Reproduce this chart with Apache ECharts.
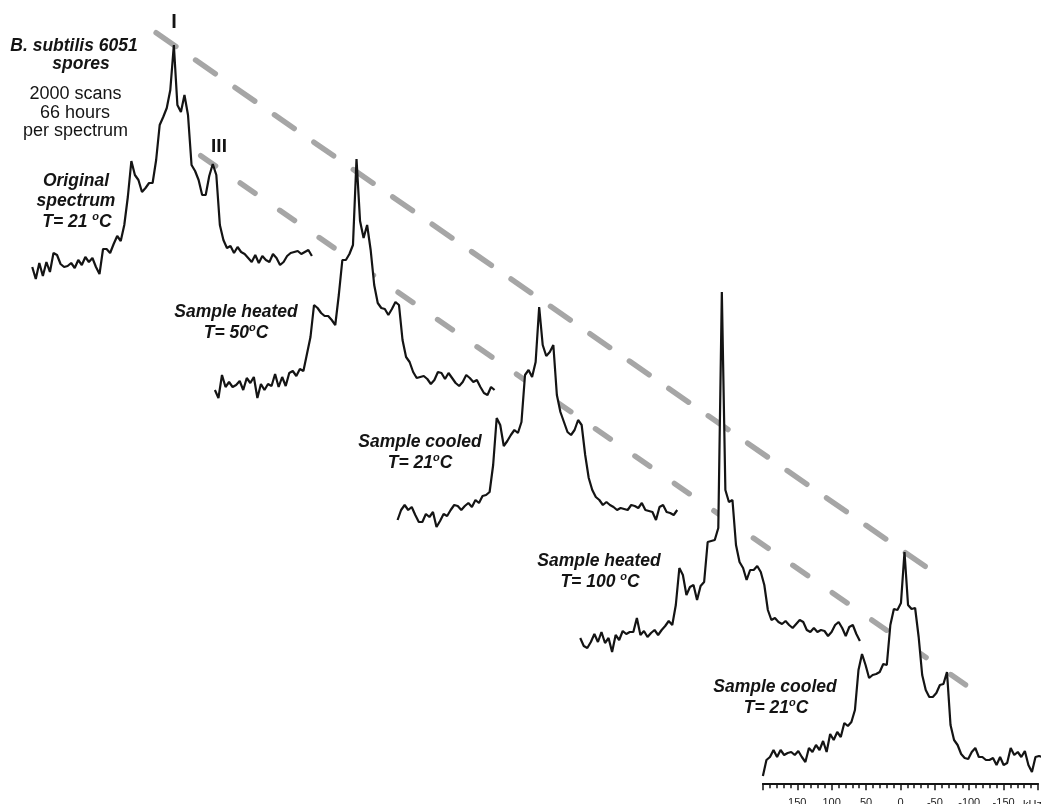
<!DOCTYPE html>
<html>
<head>
<meta charset="utf-8">
<title>B. subtilis 6051 spores – 2H NMR spectra</title>
<script src="https://cdn.jsdelivr.net/npm/echarts@6/dist/echarts.min.js"></script>
<style>
  html, body { margin: 0; padding: 0; background: #ffffff; }
  #chart { width: 1041px; height: 804px; }
</style>
</head>
<body>
<div id="chart"></div>
<script>
// ---------------------------------------------------------------------------
// Data: frequency grid (kHz) and the five spectra, intensity above baseline
// (arbitrary units), one value per frequency point, left (200 kHz) to right.
// ---------------------------------------------------------------------------
const freqKHz = [
  200, 195, 190, 185, 180, 175, 170, 165, 160, 155,
  150, 145, 140, 135, 130, 125, 120, 115, 110, 105,
  100, 95, 90, 85, 80, 75, 70, 65, 60, 55,
  50, 45, 40, 35, 30, 25, 20, 15, 10, 5,
  0, -5, -10, -15, -20, -25, -30, -35, -40, -45,
  -50, -55, -60, -65, -70, -75, -80, -85, -90, -95,
  -100, -105, -110, -115, -120, -125, -130, -135, -140, -145,
  -150, -155, -160, -165, -170, -175, -180, -185, -190, -195
];

// Original spectrum, T = 21 °C
const original21 = [
  -2, -14, 2, -11, 3, -7, 12, 10, 1, -2,
  -1, 2, -3, 5, 0, 8, 3, 7, -2, -9,
  16, 16, 12, 21, 29, 24, 40, 68, 104, 90,
  85, 73, 77, 82, 82, 105, 140, 148, 157, 175,
  220, 160, 153, 170, 150, 100, 94, 85, 70, 70,
  89, 101, 90, 40, 25, 17, 19, 12, 18, 13,
  11, 7, 3, 10, 2, 9, 5, 3, 11, 7,
  0, 3, 9, 12, 13, 14, 11, 13, 15, 9
];

// Sample heated, T = 50 °C
const heated50 = [
  0, -8, 15, 3, 8, 3, 5, 9, 0, 12,
  7, 13, -8, 6, 0, 6, 4, 16, 3, 13,
  4, 17, 19, 14, 21, 19, 36, 53, 85, 82,
  77, 74, 74, 70, 65, 95, 130, 130, 136, 145,
  231, 169, 152, 165, 140, 105, 87, 82, 81, 75,
  81, 88, 85, 50, 33, 28, 18, 12, 13, 14,
  11, 6, 10, 18, 17, 11, 17, 12, 7, 4,
  8, 15, 12, 8, 10, 3, -3, -5, 3, 0
];

// Sample cooled, T = 21 °C
const cooled21 = [
  -5, 5, 10, 5, 8, 0, -7, -7, 1, -2,
  3, -12, -6, 1, -1, 5, 10, 9, 5, 9,
  12, 8, 15, 12, 19, 20, 23, 50, 97, 90,
  69, 74, 80, 85, 82, 93, 140, 145, 138, 153,
  208, 170, 159, 163, 170, 120, 103, 93, 83, 80,
  85, 95, 90, 60, 37, 25, 18, 15, 10, 13,
  10, 8, 5, 7, 6, 5, 10, 9, 7, 12,
  5, 4, 3, -5, 8, 10, 3, 2, 0, 5
];

// Sample heated, T = 100 °C
const heated100 = [
  2, -6, -8, -2, 6, -2, 8, -3, 2, -12,
  5, 0, 9, 6, 8, 8, 22, 5, 9, 3,
  7, 10, 5, 10, 14, 19, 15, 35, 72, 65,
  45, 53, 55, 40, 54, 58, 98, 99, 100, 112,
  348, 150, 138, 140, 95, 78, 72, 60, 70, 70,
  74, 68, 55, 30, 20, 22, 18, 16, 19, 15,
  12, 16, 20, 18, 10, 8, 12, 8, 10, 9,
  4, 8, 15, 18, 12, 4, 13, 15, 6, -1
];

// Sample cooled again, T = 21 °C
const recooled21 = [
  -11, 5, 8, 15, 8, 15, 10, 12, 13, 10,
  14, 8, 3, 17, 13, 20, 15, 24, 13, 31,
  25, 33, 28, 42, 39, 43, 55, 95, 111, 100,
  87, 90, 91, 93, 101, 100, 140, 156, 155, 162,
  213, 160, 156, 157, 128, 90, 75, 68, 68, 72,
  80, 81, 93, 40, 25, 20, 11, 7, 6, 13,
  17, 8, 8, 5, 5, 7, 0, 8, 0, 2,
  17, 10, 13, 8, 14, 0, -7, 8, 9, 8
];

// Frequency labels shown on the bottom scale
const scaleLabelsKHz = ['150', '100', '50', '0', '-50', '-100', '-150'];
const scaleUnit = 'kHz';

// Texts
const titleLines = ['B. subtilis 6051', 'spores'];
const acquisitionLines = ['2000 scans', '66 hours', 'per spectrum'];
const traceLabels = [
  ['Original', 'spectrum', 'T= 21 {o|o}C'],
  ['Sample heated', 'T= 50{o|o}C'],
  ['Sample cooled', 'T= 21{o|o}C'],
  ['Sample heated', 'T= 100 {o|o}C'],
  ['Sample cooled', 'T= 21{o|o}C']
];

// Guide lines through peak I (centre) and peak III (right horn)
const guides = [
  { name: 'I',   freqTop: 0,   freqBottom: 0,   leadKHz: 25, tailKHz: 32, dash: [24, 24] },
  { name: 'III', freqTop: -55, freqBottom: -60, leadKHz: 17, tailKHz: 36, dash: [18, 30] }
];

// ---------------------------------------------------------------------------
// Layout of the stacked plot
// ---------------------------------------------------------------------------
const CHART_W = 1041, CHART_H = 804;
const PX_PER_KHZ = 0.708;       // horizontal scale shared by every trace
const ZERO_KHZ_PX = 904.5;      // x of 0 kHz for the lowest trace / scale
const STACK_SHIFT_KHZ = 258;    // each trace sits this far left of the next one
const STACK_RISE = 125;         // and this much higher
const BOTTOM_BASE = 39;         // baseline of the lowest trace
const FONT = '"Liberation Sans", Arial, Helvetica, sans-serif';
const INK = '#141414';

const traces = [original21, heated50, cooled21, heated100, recooled21];
const nTr = traces.length;
const stackX = (f, k) => f + (nTr - 1 - k) * STACK_SHIFT_KHZ;
const baseOf = k => BOTTOM_BASE + (nTr - 1 - k) * STACK_RISE;

function guideEnds(g) {
  const top = traces[0], bot = traces[nTr - 1];
  const p0 = [stackX(g.freqTop, 0), baseOf(0) + top[freqKHz.indexOf(g.freqTop)]];
  const p1 = [stackX(g.freqBottom, nTr - 1), baseOf(nTr - 1) + bot[freqKHz.indexOf(g.freqBottom)]];
  const slope = (p1[1] - p0[1]) / (p1[0] - p0[0]);
  return [
    [p0[0] + g.leadKHz, p0[1] + g.leadKHz * slope],
    [p1[0] - g.tailKHz, p1[1] - g.tailKHz * slope]
  ];
}

const series = [];
guides.forEach(g => {
  series.push({
    type: 'line', name: 'guide ' + g.name, silent: true, z: 1,
    symbol: 'none', animation: false,
    xAxisIndex: 0, yAxisIndex: 0,
    data: guideEnds(g),
    lineStyle: { color: '#a6a6a6', width: 5.5, type: g.dash, cap: 'round' }
  });
});
traces.forEach((vals, k) => {
  series.push({
    type: 'line', name: traceLabels[k].join(' '), silent: true, z: 3 + k,
    symbol: 'none', animation: false,
    xAxisIndex: 0, yAxisIndex: 0,
    data: vals.map((v, i) => [stackX(freqKHz[i], k), baseOf(k) + v]),
    lineStyle: { color: INK, width: 2.2 },
    areaStyle: { color: '#ffffff', opacity: 1, origin: baseOf(k) + Math.min(...vals) - 2 }
  });
});

// ---------------------------------------------------------------------------
// Text
// ---------------------------------------------------------------------------
function label(text, x, y, o = {}) {
  const size = o.size || 17.5;
  return {
    type: 'text', z: 100, silent: true,
    style: {
      text, x, y,
      align: o.align || 'center', verticalAlign: o.valign || 'middle',
      fill: INK, fontFamily: FONT,
      fontSize: size,
      fontWeight: o.weight || 'bold',
      fontStyle: o.style || 'italic',
      lineHeight: o.lineHeight || 22,
      rich: {
        o: {
          fontSize: 11, lineHeight: 11, verticalAlign: 'top',
          fontWeight: o.weight || 'bold', fontStyle: o.style || 'italic',
          fontFamily: FONT, fill: INK
        }
      }
    }
  };
}

const labelPos = [
  [[76, 181], [76, 201], [77, 222]],
  [[236, 312], [236, 333]],
  [[420, 442], [420, 463]],
  [[599, 561], [600, 582]],
  [[775, 687], [776, 708]]
];

const plain = { weight: 'normal', style: 'normal', size: 18 };
const graphics = [
  label(titleLines[0], 74, 46.5),
  label(titleLines[1], 81, 64),
  label(acquisitionLines[0], 75.5, 94.5, plain),
  label(acquisitionLines[1], 75, 113, plain),
  label(acquisitionLines[2], 75.5, 131, plain),
  label(guides[0].name, 174, 22.5, { size: 20, style: 'normal' }),
  label(guides[1].name, 219, 147, { size: 19, style: 'normal' }),
  label(scaleUnit, 1023, 798.5, { size: 11, weight: 'normal', style: 'normal', align: 'left', valign: 'top', lineHeight: 12 })
];
traceLabels.forEach((lines, k) => {
  lines.forEach((t, j) => graphics.push(label(t, labelPos[k][j][0], labelPos[k][j][1])));
});

// ---------------------------------------------------------------------------
// Chart
// ---------------------------------------------------------------------------
const chart = echarts.init(document.getElementById('chart'), null, { renderer: 'canvas' });
chart.setOption({
  backgroundColor: '#ffffff',
  animation: false,
  grid: [
    { left: 0, right: 0, top: 0, bottom: 0 },
    { left: ZERO_KHZ_PX - 200 * PX_PER_KHZ, top: 783, width: 400 * PX_PER_KHZ, height: 1 }
  ],
  xAxis: [
    {
      gridIndex: 0, type: 'value', inverse: true, show: false,
      min: (ZERO_KHZ_PX - CHART_W) / PX_PER_KHZ, max: ZERO_KHZ_PX / PX_PER_KHZ
    },
    {
      gridIndex: 1, type: 'value', inverse: true, z: 20,
      min: -200, max: 200, interval: 50,
      axisLine: { show: true, lineStyle: { color: INK, width: 2 } },
      axisTick: { show: true, length: 7, lineStyle: { color: INK, width: 1.5 } },
      minorTick: { show: true, splitNumber: 5, length: 5, lineStyle: { color: INK, width: 1.5 } },
      splitLine: { show: false },
      minorSplitLine: { show: false },
      axisLabel: {
        margin: 14, fontSize: 11, color: '#222', fontFamily: FONT,
        formatter: v => (scaleLabelsKHz.indexOf(String(v)) >= 0 ? String(v) : '')
      }
    }
  ],
  yAxis: [
    { gridIndex: 0, type: 'value', min: 0, max: CHART_H, show: false },
    { gridIndex: 1, type: 'value', min: 0, max: 1, show: false }
  ],
  series,
  graphic: { elements: graphics }
});
</script>
</body>
</html>
